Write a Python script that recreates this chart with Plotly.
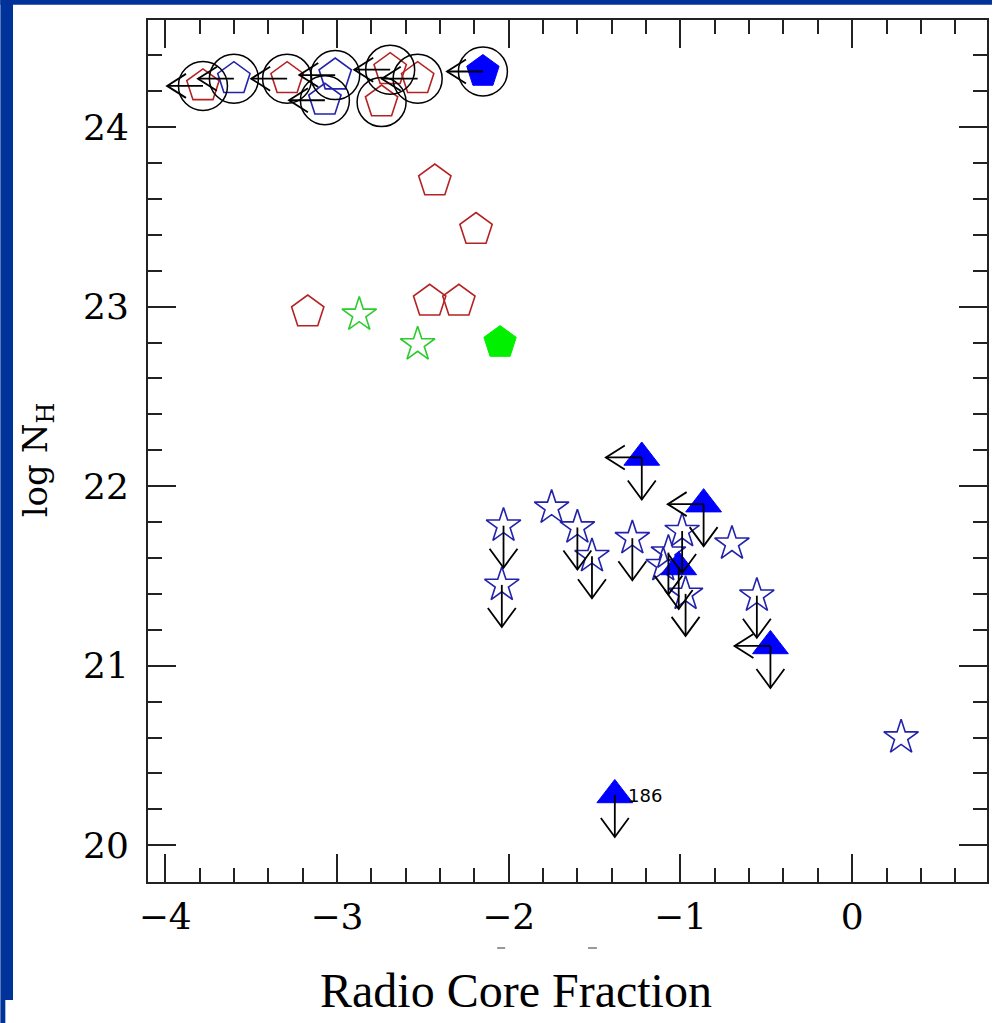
import plotly.graph_objects as go

# ---------------- data ----------------
# circled sources at the top of the plot (upper limits on radio core fraction)
circ_red_x = [-3.78, -3.29, -2.69, -2.53, -2.74]
circ_red_y = [24.23, 24.27, 24.32, 24.27, 24.14]
circ_red_left = [True, True, True, True, False]

circ_blue_x = [-3.60, -3.01, -3.07]
circ_blue_y = [24.27, 24.29, 24.15]
circ_blue_left = [True, True, True]

circ_bluefill_x = [-2.15]
circ_bluefill_y = [24.31]
circ_bluefill_left = [True]

# open red pentagons (no circles)
red_pent_x = [-2.43, -2.19, -3.17, -2.46, -2.29]
red_pent_y = [23.70, 23.43, 22.97, 23.03, 23.03]

# green objects
green_star_x = [-2.87, -2.53]
green_star_y = [22.955, 22.79]
green_fill_x = [-2.05]
green_fill_y = [22.80]

# open blue stars
blue_star_x = [-2.03, -2.04, -1.75, -1.60, -1.515, -1.28, -0.99, -1.07, -1.10, -0.97, -0.70, -0.555, 0.285]
blue_star_y = [21.78, 21.45, 21.88, 21.77, 21.61, 21.71, 21.75, 21.63, 21.56, 21.40, 21.68, 21.39, 20.60]
blue_star_down = [True, True, False, True, True, True, True, True, False, True, False, True, False]

# filled blue triangles
tri_x = [-1.225, -0.865, -1.01, -0.476, -1.382]
tri_y = [22.16, 21.90, 21.55, 21.11, 20.28]
tri_left = [True, True, False, True, False]
tri_down = [True, True, True, True, True]
tri_label = ["", "", "", "", "186"]

# axes
x_range = [-4.1, 0.785]
y_range = [19.795, 24.597]
x_ticks = [-4, -3, -2, -1, 0]
y_ticks = [20, 21, 22, 23, 24]

# ---------------- geometry / style ----------------
W, H = 994, 1023
ML, MR, MT, MB = 148, 5, 20, 141
PW, PH = W - ML - MR, H - MT - MB
SX = PW / (x_range[1] - x_range[0])   # px per x unit
SY = PH / (y_range[1] - y_range[0])   # px per y unit

RED = "#b42222"
BLUE_LINE = "#2222aa"
BLUE_FILL = "#0000ff"
GREEN_LINE = "#2ccc2c"
GREEN_FILL = "#00f000"
AX = "#222222"
BORDER = "#00339a"


def arrow_lines(xs, ys, flags, direction):
    ax, ay = [], []
    for x, y, f in zip(xs, ys, flags):
        if not f:
            continue
        if direction == "left":
            ln, hx, hy = 36 / SX, 19 / SX, 12 / SY
            tx = x - ln
            ax += [x, tx, None, tx + hx, tx, tx + hx, None]
            ay += [y, y, None, y + hy, y, y - hy, None]
        else:
            ln, hx, hy = 42 / SY, 14 / SX, 19 / SY
            ty = y - ln
            ax += [x, x, None, x - hx, x, x + hx, None]
            ay += [y, ty, None, ty + hy, ty, ty + hy, None]
    return ax, ay


fig = go.Figure()


def markers(x, y, symbol, size, color, line_color, lw=1.6):
    fig.add_trace(go.Scatter(
        x=x, y=y, mode="markers", hoverinfo="skip", showlegend=False,
        marker=dict(symbol=symbol, size=size, color=color,
                    line=dict(color=line_color, width=lw))))


# pentagons / stars
markers(circ_red_x, circ_red_y, "pentagon-open", 34, RED, RED)
markers(circ_blue_x, circ_blue_y, "pentagon-open", 34, BLUE_LINE, BLUE_LINE)
markers(red_pent_x, red_pent_y, "pentagon-open", 34, RED, RED)
markers(green_star_x, green_star_y, "star-open", 26, GREEN_LINE, GREEN_LINE)
markers(green_fill_x, green_fill_y, "pentagon", 34, GREEN_FILL, GREEN_FILL, 1)
markers(blue_star_x, blue_star_y, "star-open", 26, BLUE_LINE, BLUE_LINE)
markers(circ_bluefill_x, circ_bluefill_y, "pentagon", 34, BLUE_FILL, BLUE_FILL, 1)
markers(tri_x, tri_y, "triangle-up", 31, BLUE_FILL, BLUE_FILL, 1)

# black circles around the top sources
cx = circ_red_x + circ_blue_x + circ_bluefill_x
cy = circ_red_y + circ_blue_y + circ_bluefill_y
markers(cx, cy, "circle-open", 49, "black", "black", 1.5)

# arrows (limits)
lx, ly = arrow_lines(cx, cy, circ_red_left + circ_blue_left + circ_bluefill_left, "left")
tlx, tly = arrow_lines(tri_x, tri_y, tri_left, "left")
dx1, dy1 = arrow_lines(blue_star_x, blue_star_y, blue_star_down, "down")
dx2, dy2 = arrow_lines(tri_x, tri_y, tri_down, "down")
fig.add_trace(go.Scatter(
    x=lx + tlx + dx1 + dx2, y=ly + tly + dy1 + dy2, mode="lines",
    line=dict(color="black", width=1.8), hoverinfo="skip", showlegend=False))

annotations = []
for x, y, t in zip(tri_x, tri_y, tri_label):
    if t:
        annotations.append(dict(x=x, y=y, xref="x", yref="y", text=t, showarrow=False,
                                xanchor="left", yanchor="middle", xshift=11, yshift=-1,
                                font=dict(family="DejaVu Sans", size=18, color="black")))

# axis titles
annotations.append(dict(x=(37 - ML) / PW, y=1 - (460 - MT) / PH, xref="paper", yref="paper",
                        text="log N<sub>H</sub>", showarrow=False, textangle=-90,
                        xanchor="center", yanchor="middle",
                        font=dict(family="DejaVu Serif", size=34, color="black")))
annotations.append(dict(x=(517 - ML) / PW, y=1 - (990 - MT) / PH, xref="paper", yref="paper",
                        text="Radio Core Fraction", showarrow=False,
                        xanchor="center", yanchor="middle",
                        font=dict(family="Liberation Serif", size=48, color="black")))


def px_to_paper(px, py):
    return (px - ML) / PW, 1 - (py - MT) / PH


# slide border strips
shapes = [
    dict(type="rect", xref="paper", yref="paper", x0=(0 - ML) / PW, x1=(12.7 - ML) / PW,
         y0=1 - (1000 - MT) / PH, y1=1 - (0 - MT) / PH, fillcolor=BORDER, line_width=0),
    dict(type="rect", xref="paper", yref="paper", x0=(0 - ML) / PW, x1=(5 - ML) / PW,
         y0=1 - (H - MT) / PH, y1=1 - (1000 - MT) / PH, fillcolor=BORDER, line_width=0),
    dict(type="rect", xref="paper", yref="paper", x0=(0 - ML) / PW, x1=(W - ML) / PW,
         y0=1 - (4.7 - MT) / PH, y1=1 - (0 - MT) / PH, fillcolor=BORDER, line_width=0),
]
# two tiny remnants of clipped text under the x tick labels
for a, b in [(498, 506), (589, 598)]:
    x0, y0 = px_to_paper(a, 948)
    x1, _ = px_to_paper(b, 948)
    shapes.append(dict(type="line", xref="paper", yref="paper", x0=x0, x1=x1, y0=y0, y1=y0,
                       line=dict(color="#777777", width=1.5)))

axis_common = dict(
    showline=True, linecolor=AX, linewidth=2, mirror="allticks",
    ticks="inside", ticklen=28, tickwidth=2, tickcolor=AX,
    showgrid=False, zeroline=False,
    tickfont=dict(family="DejaVu Serif", size=36, color="black"),
    minor=dict(ticks="inside", ticklen=14, tickwidth=2, tickcolor=AX, dtick=0.2, showgrid=False),
)

fig.update_layout(
    width=W, height=H,
    margin=dict(l=ML, r=MR, t=MT, b=MB, pad=0),
    paper_bgcolor="white", plot_bgcolor="white",
    xaxis=dict(range=x_range, tickmode="array", tickvals=x_ticks,
               ticklabelstandoff=2, **axis_common),
    yaxis=dict(range=y_range, tickmode="array", tickvals=y_ticks,
               ticklabelstandoff=10, **axis_common),
    annotations=annotations, shapes=shapes, showlegend=False,
)

fig.write_html("out.html", config={"displayModeBar": False},
               post_script="document.body.style.margin='0px';")
